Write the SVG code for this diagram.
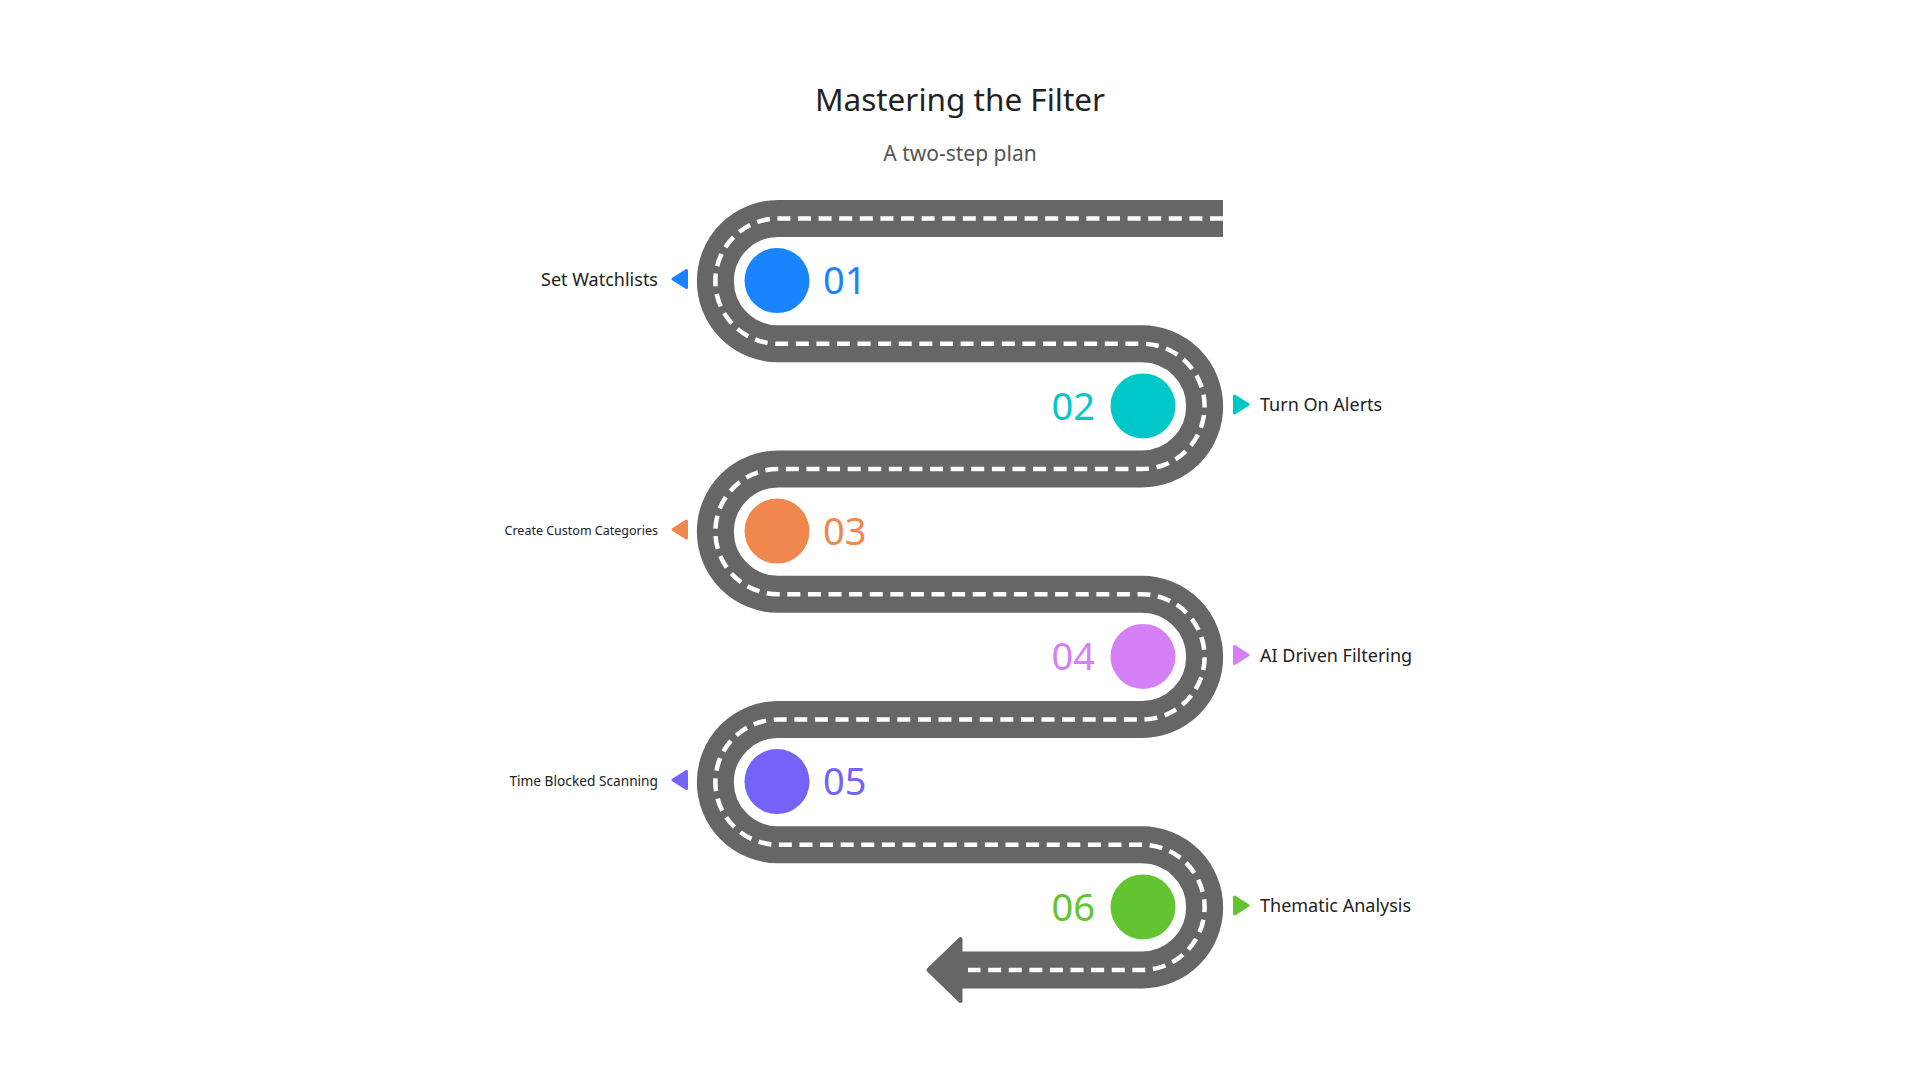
<svg xmlns="http://www.w3.org/2000/svg" width="1920" height="1080" viewBox="0 0 1920 1080">
<style>
.title{font-family:"Noto Sans","Open Sans",sans-serif;font-size:31.5px;fill:#222222;text-anchor:middle}
.sub{font-family:"Noto Sans","Open Sans",sans-serif;font-size:21px;fill:#555555;text-anchor:middle}
.lbl{font-family:"Noto Sans","Open Sans",sans-serif;font-size:18px;fill:#222222}
.num{font-family:"Noto Sans","Open Sans",sans-serif;font-size:38px}
.road{fill:none;stroke:#666666;stroke-width:37}
.dash{fill:none;stroke:#ffffff;stroke-width:4.5;stroke-dasharray:13 7.6}
.tri{stroke-linejoin:round;stroke-width:3}
</style>
<rect width="1920" height="1080" fill="#ffffff"/>
<text class="title" x="960" y="111">Mastering the Filter</text>
<text class="sub" x="960" y="161">A two-step plan</text>
<g id="connectors">
<path class="road" d="M1223,218.5 H778 A62.6,62.6 0 0 0 778,343.75 H1142 A62.6,62.6 0 0 1 1142,469 H778 A62.6,62.6 0 0 0 778,594.25 H1142 A62.6,62.6 0 0 1 1142,719.5 H778 A62.6,62.6 0 0 0 778,844.75 H1142 A62.6,62.6 0 0 1 1142,970 H960"/>
<polygon points="928.5,970 960.5,939 960.5,1001" fill="#666666" stroke="#666666" stroke-width="4" stroke-linejoin="round"/>
<path class="dash" d="M1223,218.5 H778 A62.6,62.6 0 0 0 778,343.75 H1142 A62.6,62.6 0 0 1 1142,469 H778 A62.6,62.6 0 0 0 778,594.25 H1142 A62.6,62.6 0 0 1 1142,719.5 H778 A62.6,62.6 0 0 0 778,844.75 H1142 A62.6,62.6 0 0 1 1142,970 H968"/>
</g>
<g id="step1">
<circle cx="777" cy="280.6" r="32.5" fill="#1A84FF"/>
<text class="num" x="823" y="294" fill="#1A84FF">01</text>
<polygon class="tri" points="673,279 686.5,270.5 686.5,287.5" fill="#1A84FF" stroke="#1A84FF"/>
<text class="lbl" x="658" y="286" text-anchor="end">Set Watchlists</text>
</g>
<g id="step2">
<circle cx="1143" cy="405.9" r="32.5" fill="#00C8C8"/>
<text class="num" x="1095" y="419.5" fill="#00C8C8" text-anchor="end">02</text>
<polygon class="tri" points="1234.5,396 1234.5,413 1248,404.5" fill="#00C8C8" stroke="#00C8C8"/>
<text class="lbl" x="1260" y="411">Turn On Alerts</text>
</g>
<g id="step3">
<circle cx="777" cy="531.1" r="32.5" fill="#F0884D"/>
<text class="num" x="823" y="544.6" fill="#F0884D">03</text>
<polygon class="tri" points="673,529.6 686.5,521.1 686.5,538.1" fill="#F0884D" stroke="#F0884D"/>
<text class="lbl" x="658" y="535" text-anchor="end" style="font-size:12.5px">Create Custom Categories</text>
</g>
<g id="step4">
<circle cx="1143" cy="656.4" r="32.5" fill="#D580F7"/>
<text class="num" x="1095" y="670" fill="#D580F7" text-anchor="end">04</text>
<polygon class="tri" points="1234.5,646.5 1234.5,663.5 1248,655" fill="#D580F7" stroke="#D580F7"/>
<text class="lbl" x="1260" y="662">AI Driven Filtering</text>
</g>
<g id="step5">
<circle cx="777" cy="781.6" r="32.5" fill="#7563F9"/>
<text class="num" x="823" y="795.1" fill="#7563F9">05</text>
<polygon class="tri" points="673,780.1 686.5,771.6 686.5,788.6" fill="#7563F9" stroke="#7563F9"/>
<text class="lbl" x="658" y="786" text-anchor="end" style="font-size:13.7px">Time Blocked Scanning</text>
</g>
<g id="step6">
<circle cx="1143" cy="906.9" r="32.5" fill="#62C430"/>
<text class="num" x="1095" y="920.5" fill="#62C430" text-anchor="end">06</text>
<polygon class="tri" points="1234.5,897 1234.5,914 1248,905.5" fill="#62C430" stroke="#62C430"/>
<text class="lbl" x="1260" y="912">Thematic Analysis</text>
</g>
</svg>
